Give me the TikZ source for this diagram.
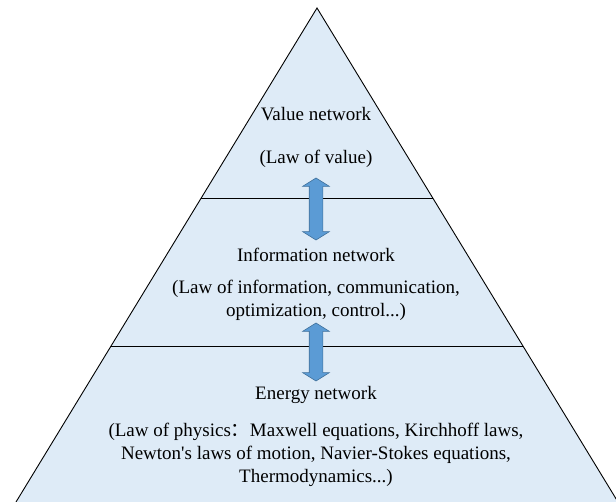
\documentclass[tikz,border=0pt]{standalone}
\usepackage{fontspec}
\setmainfont{Liberation Serif}
\newfontfamily\cjk{Noto Sans CJK SC}
\usetikzlibrary{shapes.arrows,calc}
\definecolor{layerfill}{HTML}{DEEBF7}
\definecolor{arrowfill}{HTML}{5B9BD5}
\definecolor{arrowdraw}{HTML}{41719C}

\begin{document}
\begin{tikzpicture}[x=1pt, y=-1pt]
	\tikzstyle{layertext} = [align=center, inner sep=0pt, font=\fontsize{19}{23}\selectfont]
	\tikzstyle{updown} = [double arrow, rotate=90, fill=arrowfill, draw=arrowdraw, line width=0.6pt, inner xsep=0pt, inner ysep=6.5pt, double arrow head extend=6.5pt, double arrow tip angle=116]

	\useasboundingbox (0,0) rectangle (616,502);

	% pyramid outline
	\coordinate (top) at (317,8);
	\coordinate (bl) at (16,502);
	\coordinate (br) at (618,502);
	\fill[layerfill] (bl) -- (top) -- (br) -- cycle;
	\draw[line width=0.9pt] (bl) -- (top) -- (br);

	% layer borders
	\draw[line width=0.9pt] ($(top)!0.3846!(bl)$) -- ($(top)!0.3846!(br)$);
	\draw[line width=0.9pt] ($(top)!0.6842!(bl)$) -- ($(top)!0.6842!(br)$);

	\node[updown, minimum height=62pt] (up1) at (316,209) {};
	\node[updown, minimum height=58pt] (up2) at (316,352) {};

	\path
	node[layertext] (value) at (316,114) {Value network}
	node[layertext] (valuelaw) at (316,159) {(Law of value)}
	node[layertext] (info) at (316,255) {Information network}
	node[layertext] (infolaw) at (316,300) {(Law of information, communication,\\optimization, control...)}
	node[layertext] (energy) at (316,395) {Energy network}
	node[layertext] (energylaw) at (316,455) {(Law of physics{\cjk ：}Maxwell equations, Kirchhoff laws,\\Newton\textquotesingle s laws of motion, Navier-Stokes equations,\\Thermodynamics...)}
	;
\end{tikzpicture}
\end{document}
